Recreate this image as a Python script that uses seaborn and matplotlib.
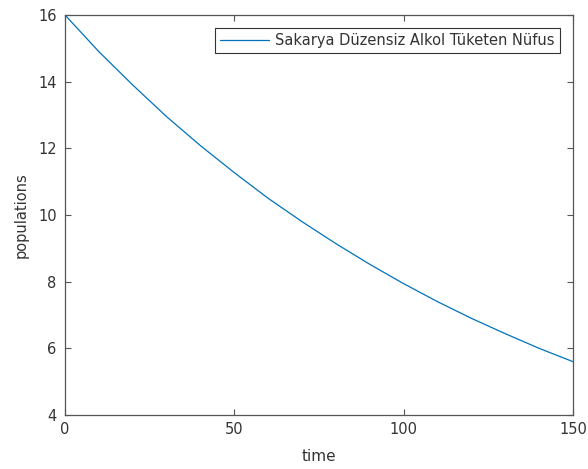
import matplotlib
matplotlib.use("Agg")
import matplotlib.pyplot as plt
import seaborn as sns
import pandas as pd

# Simulated population over time
time = [0, 10, 20, 30, 40, 50, 60, 70, 80, 90, 100, 110, 120, 130, 140, 150]
population = [16.0, 14.9, 13.9, 12.95, 12.08, 11.27, 10.5, 9.8, 9.14, 8.52,
              7.94, 7.4, 6.9, 6.44, 6.0, 5.6]
series_label = "Sakarya Düzensiz Alkol Tüketen Nüfus"
x_ticks = [0, 50, 100, 150]
y_ticks = [4, 6, 8, 10, 12, 14, 16]

df = pd.DataFrame({"time": time, "populations": population, "series": series_label})

sns.set_style("ticks")
plt.rcParams["font.family"] = ["DejaVu Sans"]

fig = plt.figure(figsize=(5.88, 4.69), dpi=100)
ax = fig.add_axes([0.1105, 0.1151, 0.864, 0.853])

sns.lineplot(data=df, x="time", y="populations", hue="series",
             palette=["#0072BD"], linewidth=0.9, ax=ax)

ax.set_xlim(0, 150)
ax.set_ylim(4, 16)
ax.set_xticks(x_ticks)
ax.set_yticks(y_ticks)

grey = "#333333"
for side in ["left", "right", "top", "bottom"]:
    ax.spines[side].set_visible(True)
    ax.spines[side].set_color("#555555")
    ax.spines[side].set_linewidth(0.9)
ax.tick_params(direction="in", top=True, right=True, length=4, width=0.8,
               colors="#555555", labelcolor=grey, labelsize=10.5)
ax.tick_params(axis="y", pad=6)
ax.tick_params(axis="x", pad=5)
ax.set_xlabel("time", fontsize=11, color=grey, labelpad=9)
ax.set_ylabel("populations", fontsize=10.5, color=grey, labelpad=7)

leg = ax.legend(loc="upper right", fontsize=10.5, frameon=True, fancybox=False,
                borderaxespad=0.9, handlelength=3.4, borderpad=0.35,
                handletextpad=0.4)
leg.get_frame().set_edgecolor("#333333")
leg.get_frame().set_linewidth(0.8)
leg.get_frame().set_alpha(1)
for t in leg.get_texts():
    t.set_color(grey)

fig.savefig("out.png", dpi=100)
